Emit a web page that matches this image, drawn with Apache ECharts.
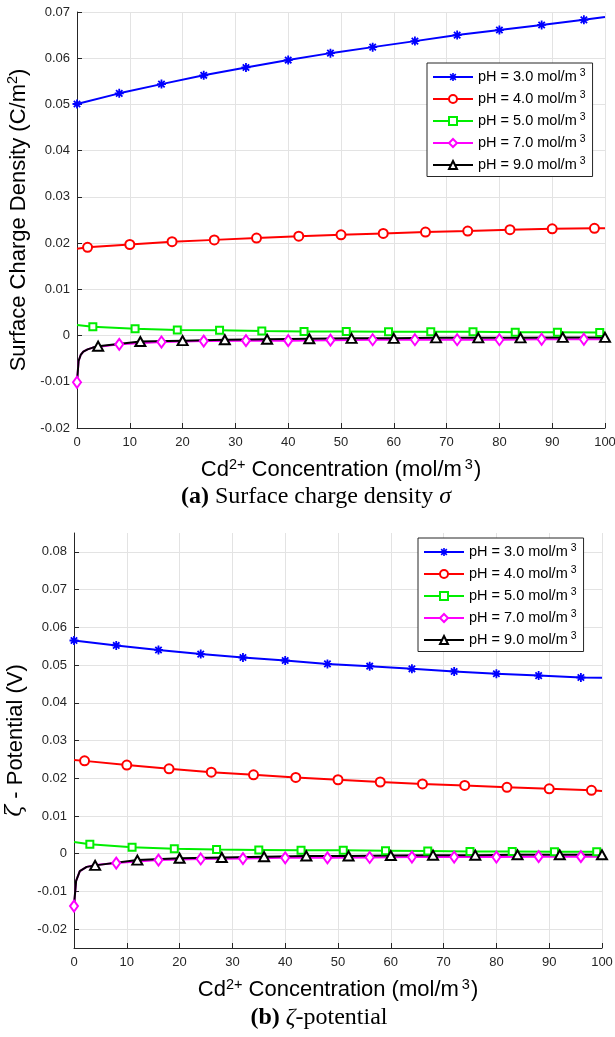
<!DOCTYPE html>
<html>
<head>
<meta charset="utf-8">
<script src="https://cdn.jsdelivr.net/npm/echarts@6/dist/echarts.min.js"></script>
<style>html,body{margin:0;padding:0;background:#fff}#c{width:615px;height:1037px}</style>
</head>
<body>
<div id="c"></div>
<script>
// ---------------- data ----------------
const legendNames = ['pH = 3.0', 'pH = 4.0', 'pH = 5.0', 'pH = 7.0', 'pH = 9.0'];
const xTicks = [0, 10, 20, 30, 40, 50, 60, 70, 80, 90, 100];
const yTicksA = [-0.02, -0.01, 0, 0.01, 0.02, 0.03, 0.04, 0.05, 0.06, 0.07];
const yTicksB = [-0.02, -0.01, 0, 0.01, 0.02, 0.03, 0.04, 0.05, 0.06, 0.07, 0.08];

// Panel (a): surface charge density (C/m^2)
const a3x = [0, 8, 16, 24, 32, 40, 48, 56, 64, 72, 80, 88, 96, 100];
const a3y = [0.0501, 0.0524, 0.0544, 0.0563, 0.0580, 0.0596, 0.0611, 0.0624, 0.0637, 0.0650, 0.0661, 0.0672, 0.0683, 0.0689];
const a3m = [0, 8, 16, 24, 32, 40, 48, 56, 64, 72, 80, 88, 96];

const a4x = [0, 2, 10, 18, 26, 34, 42, 50, 58, 66, 74, 82, 90, 98, 100];
const a4y = [0.0188, 0.0191, 0.0197, 0.0203, 0.0207, 0.0211, 0.0215, 0.0218, 0.0221, 0.0224, 0.0226, 0.0229, 0.0231, 0.0232, 0.0232];
const a4m = [2, 10, 18, 26, 34, 42, 50, 58, 66, 74, 82, 90, 98];

const a5x = [0, 3, 11, 19, 27, 35, 43, 51, 59, 67, 75, 83, 91, 99, 100];
const a5y = [0.0023, 0.0019, 0.00145, 0.0012, 0.00115, 0.0010, 0.0009, 0.0009, 0.00085, 0.0008, 0.0008, 0.0007, 0.0007, 0.00065, 0.00065];
const a5m = [3, 11, 19, 27, 35, 43, 51, 59, 67, 75, 83, 91, 99];

const a7x = [0, 0.3, 0.7, 1.2, 2, 3, 8, 16, 24, 32, 40, 48, 56, 64, 72, 80, 88, 96, 100];
const a7y = [-0.0101, -0.0055, -0.0042, -0.0035, -0.0030, -0.0026, -0.0019, -0.0014, -0.0012, -0.0011, -0.0011, -0.0010, -0.0009, -0.0009, -0.0009, -0.0009, -0.0008, -0.0008, -0.0008];
const a7m = [0, 8, 16, 24, 32, 40, 48, 56, 64, 72, 80, 88, 96];

const a9x = [0, 0.3, 0.7, 1.2, 2, 3, 4, 12, 20, 28, 36, 44, 52, 60, 68, 76, 84, 92, 100];
const a9y = [-0.0101, -0.0055, -0.0042, -0.0035, -0.0030, -0.0026, -0.0023, -0.0013, -0.0011, -0.0009, -0.0008, -0.0007, -0.0006, -0.0006, -0.0005, -0.0005, -0.0005, -0.0004, -0.0004];
const a9m = [4, 12, 20, 28, 36, 44, 52, 60, 68, 76, 84, 92, 100];

// Panel (b): zeta potential (V)
const b3x = [0, 8, 16, 24, 32, 40, 48, 56, 64, 72, 80, 88, 96, 100];
const b3y = [0.0565, 0.0552, 0.0540, 0.0529, 0.0520, 0.0512, 0.0503, 0.0497, 0.0490, 0.0483, 0.0477, 0.0472, 0.0467, 0.0466];
const b3m = [0, 8, 16, 24, 32, 40, 48, 56, 64, 72, 80, 88, 96];

const b4x = [0, 2, 10, 18, 26, 34, 42, 50, 58, 66, 74, 82, 90, 98, 100];
const b4y = [0.0248, 0.0246, 0.0235, 0.0225, 0.0216, 0.0209, 0.0202, 0.0196, 0.0190, 0.0185, 0.0181, 0.0176, 0.0172, 0.0168, 0.0166];
const b4m = [2, 10, 18, 26, 34, 42, 50, 58, 66, 74, 82, 90, 98];

const b5x = [0, 3, 11, 19, 27, 35, 43, 51, 59, 67, 75, 83, 91, 99, 100];
const b5y = [0.0031, 0.0025, 0.0017, 0.0013, 0.0011, 0.0010, 0.0009, 0.0009, 0.0008, 0.0007, 0.0006, 0.0006, 0.0005, 0.0005, 0.0005];
const b5m = [3, 11, 19, 27, 35, 43, 51, 59, 67, 75, 83, 91, 99];

const b7x = [0, 0.4, 1.1, 2.4, 4, 8, 16, 24, 32, 40, 48, 56, 64, 72, 80, 88, 96, 100];
const b7y = [-0.0139, -0.0072, -0.0046, -0.0035, -0.0030, -0.0025, -0.0017, -0.0014, -0.0013, -0.0011, -0.0011, -0.0010, -0.0009, -0.0009, -0.0009, -0.0008, -0.0008, -0.0008];
const b7m = [0, 8, 16, 24, 32, 40, 48, 56, 64, 72, 80, 88, 96];

const b9x = [0, 0.4, 1.1, 2.4, 4, 12, 20, 28, 36, 44, 52, 60, 68, 76, 84, 92, 100];
const b9y = [-0.0137, -0.0072, -0.0046, -0.0035, -0.0031, -0.0017, -0.0012, -0.0010, -0.0008, -0.0006, -0.0006, -0.0005, -0.0004, -0.0004, -0.0003, -0.0003, -0.0003];
const b9m = [4, 12, 20, 28, 36, 44, 52, 60, 68, 76, 84, 92, 100];

// ---------------- styles ----------------
const SANS = 'Liberation Sans';
const SERIF = 'Liberation Serif';
const AXIS_COLOR = '#262626';
const GRID_COLOR = '#e3e3e3';
const ASTERISK = 'path://M2 10H22V14H2Z M10 2H14V22H10Z M3.52 6.34L6.34 3.52L20.48 17.66L17.66 20.48Z M17.66 3.52L20.48 6.34L6.34 20.48L3.52 17.66Z';

const seriesStyles = [
  { color: '#0000ff', symbol: ASTERISK, size: 9 },
  { color: '#ff0000', symbol: 'emptyCircle', size: 9 },
  { color: '#00ee00', symbol: 'emptyRect', size: 7 },
  { color: '#ff00ff', symbol: 'emptyDiamond', size: [8, 11] },
  { color: '#000000', symbol: 'emptyTriangle', size: [10, 9] }
];

function buildData(xs, ys, marks) {
  return xs.map((x, i) => marks.indexOf(x) >= 0 ? { value: [x, ys[i]] } : { value: [x, ys[i]], symbol: 'none' });
}

function mkSeries(gi, k, xs, ys, marks) {
  const st = seriesStyles[k];
  return {
    type: 'line',
    name: legendNames[k],
    xAxisIndex: gi,
    yAxisIndex: gi,
    data: buildData(xs, ys, marks),
    symbol: st.symbol,
    symbolSize: st.size,
    showSymbol: true,
    showAllSymbol: true,
    clip: false,
    animation: false,
    lineStyle: { color: st.color, width: 2 },
    itemStyle: { color: st.color, borderWidth: 1.5 },
    emphasis: { disabled: true }
  };
}

const supRich = {
  n: { fontFamily: SANS, fontSize: 22, color: '#000', lineHeight: 26 },
  s: { fontFamily: SANS, fontSize: 14.5, color: '#000', lineHeight: 14, verticalAlign: 'top' },
  s3: { fontFamily: SANS, fontSize: 14.5, color: '#000', lineHeight: 14, verticalAlign: 'top', padding: [0, 1, 0, 3] },
  z: { fontFamily: 'DejaVu Serif', fontStyle: 'italic', fontSize: 22, color: '#000', lineHeight: 26 }
};

function xAxisCfg(gi) {
  return {
    type: 'value', gridIndex: gi, min: 0, max: 100, interval: 10,
    name: '{n|Cd}{s|2+}{n| Concentration (mol/m}{s3|3}{n|)}',
    nameLocation: 'middle', nameGap: 29,
    nameTextStyle: { rich: supRich },
    axisLine: { show: true, onZero: false, lineStyle: { color: AXIS_COLOR, width: 1 } },
    axisTick: { show: true, inside: true, length: 5, lineStyle: { color: AXIS_COLOR } },
    axisLabel: { fontFamily: SANS, fontSize: 13, color: AXIS_COLOR, margin: 8 },
    splitLine: { show: true, lineStyle: { color: GRID_COLOR, width: 1 } }
  };
}

function yAxisCfg(gi, name, min, max, ticks, interval) {
  const cfg = {
    type: 'value', gridIndex: gi, min: min, max: max,
    name: name, nameLocation: 'middle', nameGap: 44,
    nameTextStyle: { rich: supRich },
    axisLine: { show: true, onZero: false, lineStyle: { color: AXIS_COLOR, width: 1 } },
    axisTick: { show: true, inside: true, length: 5, lineStyle: { color: AXIS_COLOR } },
    axisLabel: { fontFamily: SANS, fontSize: 13, color: AXIS_COLOR, margin: 7 },
    splitLine: { show: true, lineStyle: { color: GRID_COLOR, width: 1 } }
  };
  if (interval) {
    cfg.interval = interval;
  } else {
    cfg.axisTick.customValues = ticks;
    cfg.axisLabel.customValues = ticks;
  }
  return cfg;
}

function legendCfg(left, top) {
  return {
    orient: 'vertical', left: left, top: top,
    data: legendNames,
    itemWidth: 40, itemHeight: 10, itemGap: 5.5,
    padding: [5, 7, 4, 5],
    backgroundColor: '#fff', borderColor: AXIS_COLOR, borderWidth: 1, borderRadius: 0,
    selectedMode: false,
    formatter: name => '{n|' + name + ' mol/m}{s|3}',
    textStyle: {
      rich: {
        n: { fontFamily: SANS, fontSize: 14.5, color: '#000', lineHeight: 18 },
        s: { fontFamily: SANS, fontSize: 10.5, color: '#000', lineHeight: 11, verticalAlign: 'top', padding: [0, 0, 0, 3] }
      }
    }
  };
}

const captionRich = {
  b: { fontFamily: SERIF, fontWeight: 'bold', fontSize: 24, color: '#000', lineHeight: 26 },
  r: { fontFamily: SERIF, fontWeight: 'normal', fontSize: 24, color: '#000', lineHeight: 26 },
  i: { fontFamily: SERIF, fontWeight: 'normal', fontStyle: 'italic', fontSize: 24, color: '#000', lineHeight: 26 }
};

const aSets = [[a3x, a3y, a3m], [a4x, a4y, a4m], [a5x, a5y, a5m], [a7x, a7y, a7m], [a9x, a9y, a9m]];
const bSets = [[b3x, b3y, b3m], [b4x, b4y, b4m], [b5x, b5y, b5m], [b7x, b7y, b7m], [b9x, b9y, b9m]];

const series = [];
aSets.forEach((s, k) => series.push(mkSeries(0, k, s[0], s[1], s[2])));
bSets.forEach((s, k) => series.push(mkSeries(1, k, s[0], s[1], s[2])));

const option = {
  backgroundColor: '#fff',
  animation: false,
  grid: [
    { left: 77, top: 12, width: 528, height: 416, outerBoundsMode: 'none', containLabel: false },
    { left: 74, top: 533, width: 528, height: 415, outerBoundsMode: 'none', containLabel: false }
  ],
  xAxis: [xAxisCfg(0), xAxisCfg(1)],
  yAxis: [
    yAxisCfg(0, '{n|Surface Charge Density (C/m}{s|2}{n|)}', -0.02, 0.07, yTicksA, 0.01),
    yAxisCfg(1, '{z|ζ}{n| - Potential (V)}', -0.025, 0.085, yTicksB, null)
  ],
  legend: [legendCfg(427, 63), legendCfg(418, 538)],
  title: [
    { text: '{b|(a)}{r| Surface charge density }{i|σ}', left: 316, top: 484, textAlign: 'center', padding: 0, textStyle: { fontWeight: 'normal', rich: captionRich } },
    { text: '{b|(b)}{r| }{i|ζ}{r|-potential}', left: 319, top: 1005, textAlign: 'center', padding: 0, textStyle: { fontWeight: 'normal', rich: captionRich } }
  ],
  series: series
};

const chart = echarts.init(document.getElementById('c'), null, { renderer: 'canvas', width: 615, height: 1037 });
chart.setOption(option);
</script>
</body>
</html>
